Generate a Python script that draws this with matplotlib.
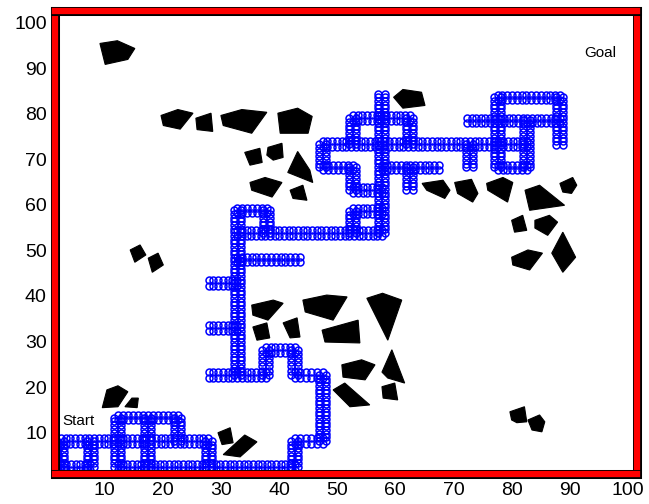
import numpy as np
import matplotlib.pyplot as plt
import matplotlib.patheffects as pe

# explored path, as polylines in data units
PATHS = [
    [(2.5, 8.2), (27.8, 8.2), (27.8, 2.5)],
    [(2.5, 8.2), (2.5, 2.5), (7.5, 2.5), (7.5, 8.2)],
    [(12.3, 2.5), (12.3, 13.3), (22.6, 13.3), (22.6, 8.2)],
    [(17.3, 2.5), (17.3, 13.3)],
    [(12.3, 2.5), (42.7, 2.5), (42.7, 8.2), (47.5, 8.2), (47.5, 22.7),
     (42.7, 22.7), (42.7, 28.2), (37.7, 28.2), (37.7, 22.7), (27.9, 22.7)],
    [(32.8, 22.7), (32.8, 58.8), (37.9, 58.8), (37.9, 53.8)],
    [(27.9, 33.0), (32.8, 33.0)],
    [(27.9, 42.8), (32.8, 42.8)],
    [(32.8, 48.0), (43.6, 48.0)],
    [(32.8, 53.8), (57.7, 53.8)],
    [(52.7, 53.8), (52.7, 58.6), (57.7, 58.6)],
    [(57.7, 53.8), (57.7, 84.4)],
    [(57.7, 63.2), (52.7, 63.2), (52.7, 68.2), (47.5, 68.2), (47.5, 73.3), (82.6, 73.3)],
    [(57.7, 68.2), (67.5, 68.2)],
    [(52.7, 73.3), (52.7, 79.0), (62.5, 79.0), (62.5, 73.3)],
    [(62.5, 68.2), (62.5, 63.2)],
    [(72.3, 78.5), (88.3, 78.5)],
    [(77.6, 68.2), (77.6, 83.6), (88.3, 83.6), (88.3, 73.1)],
    [(72.8, 73.3), (72.8, 68.2)],
    [(82.6, 78.5), (82.6, 68.2), (77.6, 68.2)],
]

# obstacles (polygon vertices)
OBSTACLES = [
    [(9.2, 95.4), (12.2, 96.0), (15.2, 94.3), (14.0, 91.9), (10.1, 90.8)],
    [(19.7, 79.6), (22.6, 80.9), (25.2, 80.1), (23.0, 76.6), (20.1, 77.4)],
    [(25.7, 79.0), (28.3, 80.1), (28.6, 76.1), (25.9, 76.5)],
    [(30.0, 79.6), (33.6, 80.9), (37.9, 80.3), (35.3, 75.7), (30.4, 77.4)],
    [(39.8, 80.1), (43.2, 81.2), (45.7, 79.4), (45.0, 75.7), (40.2, 75.7)],
    [(34.1, 71.5), (36.7, 72.4), (37.1, 69.3), (35.0, 68.7)],
    [(38.1, 72.6), (40.5, 73.5), (40.7, 70.4), (39.0, 69.8), (37.9, 70.9)],
    [(43.2, 71.7), (45.3, 67.6), (45.8, 64.9), (41.5, 67.1)],
    [(35.0, 64.9), (37.6, 66.0), (40.5, 64.9), (38.8, 61.7), (35.3, 63.2)],
    [(41.9, 63.2), (44.1, 64.3), (44.8, 61.0), (42.4, 61.4)],
    [(59.7, 83.6), (61.3, 85.3), (64.5, 84.7), (65.1, 81.8), (61.3, 81.2)],
    [(64.6, 64.7), (68.2, 65.4), (69.4, 63.2), (68.5, 61.4), (65.4, 63.2)],
    [(70.2, 64.9), (73.1, 65.6), (74.2, 62.5), (73.3, 60.6), (70.7, 62.5)],
    [(75.7, 64.7), (78.5, 66.0), (80.2, 64.9), (79.3, 60.6), (75.9, 63.2)],
    [(82.3, 63.2), (84.8, 64.3), (89.1, 59.9), (83.1, 58.8)],
    [(88.3, 64.7), (90.5, 66.0), (91.2, 64.3), (90.3, 62.5), (88.8, 62.8)],
    [(80.0, 56.6), (81.9, 57.7), (82.6, 54.4), (80.5, 54.0)],
    [(84.0, 56.6), (86.5, 57.7), (87.9, 56.2), (86.2, 53.3), (84.0, 54.9)],
    [(80.0, 48.5), (82.8, 50.1), (85.3, 49.4), (83.1, 45.7), (80.2, 46.8)],
    [(86.9, 49.4), (88.8, 54.0), (91.0, 48.5), (88.8, 45.2)],
    [(35.3, 38.0), (39.0, 39.1), (40.7, 38.4), (38.1, 34.7), (35.5, 35.8)],
    [(44.1, 39.1), (48.2, 40.2), (51.7, 39.8), (49.3, 34.7), (44.5, 36.5)],
    [(55.1, 39.5), (57.8, 40.6), (61.1, 39.1), (58.7, 30.3)],
    [(35.5, 33.2), (37.9, 34.1), (38.4, 30.8), (36.2, 30.3)],
    [(40.7, 34.1), (43.1, 35.2), (43.6, 31.0), (41.9, 30.8)],
    [(47.4, 32.5), (53.6, 34.7), (53.9, 29.7), (47.9, 29.9)],
    [(50.8, 24.9), (54.2, 26.0), (56.5, 24.9), (54.8, 21.6), (51.0, 22.2)],
    [(57.7, 23.3), (59.4, 28.2), (61.6, 20.9), (58.7, 22.0)],
    [(49.3, 19.4), (51.3, 20.9), (55.6, 16.1), (52.2, 15.7)],
    [(57.7, 20.1), (59.9, 20.9), (60.4, 17.2), (57.9, 17.6)],
    [(29.5, 10.0), (31.6, 11.1), (32.1, 7.8), (30.2, 7.4)],
    [(30.4, 5.2), (34.1, 9.5), (36.2, 8.0), (33.3, 4.7)],
    [(10.4, 19.4), (12.3, 20.3), (14.0, 19.0), (12.3, 15.7), (9.6, 15.5)],
    [(13.5, 15.7), (14.7, 17.6), (15.8, 17.6), (15.6, 15.5)],
    [(79.7, 14.6), (82.2, 15.7), (82.6, 12.4), (80.9, 12.2), (80.0, 12.8)],
    [(82.8, 12.8), (84.8, 13.9), (85.7, 12.4), (85.2, 10.2), (83.5, 10.6)],
    [(14.4, 50.1), (16.1, 51.2), (17.1, 49.0), (15.2, 47.4)],
    [(17.5, 48.3), (19.2, 49.4), (20.1, 46.8), (18.2, 45.2)],
]

START = (2.7, 12.6)
GOAL = (92.4, 93.4)
TICKS = [10, 20, 30, 40, 50, 60, 70, 80, 90, 100]

plt.rcParams['font.family'] = ['Liberation Sans', 'DejaVu Sans']


def draw_band(ax, pts, step=0.8, off=0.6):
    # path drawn as two rows of small rings, like the original planner output
    for (x0, y0), (x1, y1) in zip(pts[:-1], pts[1:]):
        length = np.hypot(x1 - x0, y1 - y0)
        n = max(int(length / step), 1) + 1
        t = np.linspace(0, 1, n)
        xs = x0 + t * (x1 - x0)
        ys = y0 + t * (y1 - y0)
        if abs(y1 - y0) < 1e-9:
            rows = [(xs, ys - off), (xs, ys + off)]
        else:
            rows = [(xs - off, ys), (xs + off, ys)]
        for rx, ry in rows:
            ax.plot(rx, ry, ls='none', marker='o', ms=5, mfc='none',
                    mec='blue', mew=1.1)


fig = plt.figure(figsize=(6.49, 5.04), dpi=100)
ax = fig.add_axes([0.085, 0.06, 0.896, 0.918])

for poly in OBSTACLES:
    xs, ys = zip(*poly)
    ax.fill(xs, ys, color='black', lw=0.8, ec='black')

for path in PATHS:
    draw_band(ax, path)

ax.text(START[0], START[1], 'Start', fontsize=11, va='center', ha='left')
ax.text(GOAL[0], GOAL[1], 'Goal', fontsize=11, va='center', ha='left')

ax.set_xlim(1.5, 101.5)
ax.set_ylim(1, 102.5)
ax.set_xticks(TICKS)
ax.set_yticks(TICKS)
ax.tick_params(length=0, labelsize=14, pad=6)

for spine in ax.spines.values():
    spine.set_color('red')
    spine.set_linewidth(4.5)
    spine.set_path_effects([pe.Stroke(linewidth=6.5, foreground='black'), pe.Normal()])

fig.savefig('out.png', dpi=100)
